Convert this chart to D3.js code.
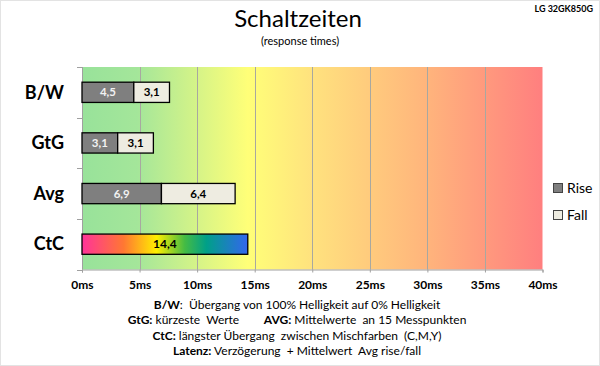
<!DOCTYPE html>
<html><head><meta charset="utf-8">
<script src="https://cdn.jsdelivr.net/npm/d3@7"></script>
<style>body{margin:0;background:#fff}svg{display:block;font-family:Lato,"Liberation Sans",sans-serif}</style>
</head><body>
<script>
const categories = ["B/W","GtG","Avg","CtC"];
const riseValues = [4.5, 3.1, 6.9, null];
const fallValues = [3.1, 3.1, 6.4, null];
const ctcValue = 14.4;
const xTicks = [0,5,10,15,20,25,30,35,40];
const seriesNames = ["Rise","Fall"];
const footLines = [
  [["B/W",true],[":  Übergang von 100% Helligkeit auf 0% Helligkeit",false]],
  [["GtG:",true],[" kürzeste  Werte        ",false],["AVG:",true],[" Mittelwerte  an 15 Messpunkten",false]],
  [["CtC:",true],[" längster Übergang  zwischen Mischfarben  (C,M,Y)",false]],
  [["Latenz:",true],[" Verzögerung  + Mittelwert  Avg rise/fall",false]]
];
const fmt = v => String(v).replace(".", ",");

const W=600,H=366;
const svg=d3.select("body").append("svg").attr("width",W).attr("height",H);
svg.append("rect").attr("x",0.5).attr("y",0.5).attr("width",W-1).attr("height",H-1).attr("fill","#fff").attr("stroke","#e3e3e3");

const plot={l:82,r:542.5,t:67,b:269.5};
const x=d3.scaleLinear().domain([0,40]).range([plot.l,plot.r]);
const y=d3.scaleBand().domain(categories).range([plot.t,plot.b]).paddingInner(0.6).paddingOuter(0.3);

const defs=svg.append("defs");
const bg=defs.append("linearGradient").attr("id","bg");
[[0,"#98e29a"],[0.12,"#a4e69a"],[0.36,"#ffff78"],[0.5,"#ffe27e"],[0.75,"#ffb47c"],[1,"#ff7f7f"]]
  .forEach(([o,c])=>bg.append("stop").attr("offset",o).attr("stop-color",c));
const cg=defs.append("linearGradient").attr("id","ctc");
[[0,"#ff3399"],[0.25,"#ff7733"],[0.45,"#ffee00"],[0.62,"#44bb44"],[0.75,"#00a088"],[1,"#3366ee"]]
  .forEach(([o,c])=>cg.append("stop").attr("offset",o).attr("stop-color",c));

svg.append("rect").attr("x",plot.l).attr("y",plot.t).attr("width",plot.r-plot.l).attr("height",plot.b-plot.t).attr("fill","url(#bg)");

// gridlines
svg.append("g").selectAll("line").data(xTicks.filter(d=>d>0&&d<40)).join("line")
  .attr("x1",d=>Math.round(x(d))+0.5).attr("x2",d=>Math.round(x(d))+0.5)
  .attr("y1",plot.t).attr("y2",plot.b).attr("stroke","#a8a8a0").attr("stroke-width",1);

// x axis
const xa=svg.append("g").attr("transform",`translate(0,${plot.b})`)
  .call(d3.axisBottom(x).tickValues(xTicks).tickSize(3).tickFormat(d=>d+"ms"));
xa.select(".domain").attr("stroke","#a0a0a0");
xa.selectAll(".tick line").attr("stroke","#a0a0a0");
xa.selectAll(".tick text").attr("font-family","Lato").attr("font-weight","bold").attr("font-size",12).attr("fill","#000").attr("dy","1.15em");

// y axis
const bandStep=(plot.b-plot.t)/categories.length;
const ya=svg.append("g").attr("transform",`translate(${plot.l},0)`);
ya.append("line").attr("x1",0.5).attr("x2",0.5).attr("y1",plot.t).attr("y2",plot.b).attr("stroke","#a0a0a0");
ya.selectAll(".tk").data(d3.range(categories.length+1)).join("line").attr("class","tk")
  .attr("x1",-5).attr("x2",0).attr("y1",i=>Math.round(plot.t+i*bandStep)+0.5).attr("y2",i=>Math.round(plot.t+i*bandStep)+0.5).attr("stroke","#a0a0a0");
svg.append("g").selectAll("text").data(categories).join("text")
  .attr("x",64).attr("y",d=>y(d)+y.bandwidth()/2).attr("dy","0.35em").attr("text-anchor","end")
  .attr("font-weight","bold").attr("font-size",18).attr("fill","#000").text(d=>d);

// bars
const bars=svg.append("g");
categories.forEach((c,i)=>{
  const yy=y(c), h=y.bandwidth();
  if(riseValues[i]!=null){
    const r=riseValues[i], f=fallValues[i];
    bars.append("rect").attr("x",x(0)).attr("y",yy).attr("width",x(r)-x(0)).attr("height",h).attr("fill","#7f7f7f").attr("stroke","#000").attr("stroke-width",1.3);
    bars.append("rect").attr("x",x(r)).attr("y",yy).attr("width",x(r+f)-x(r)).attr("height",h).attr("fill","#eeece1").attr("stroke","#000").attr("stroke-width",1.3);
    bars.append("text").attr("x",(x(0)+x(r))/2).attr("y",yy+h/2).attr("dy","0.35em").attr("text-anchor","middle").attr("font-weight","bold").attr("font-size",11.5).attr("fill","#f2f2f2").text(fmt(r));
    bars.append("text").attr("x",(x(r)+x(r+f))/2).attr("y",yy+h/2).attr("dy","0.35em").attr("text-anchor","middle").attr("font-weight","bold").attr("font-size",11.5).attr("fill","#000").text(fmt(f));
  } else {
    bars.append("rect").attr("x",x(0)).attr("y",yy).attr("width",x(ctcValue)-x(0)).attr("height",h).attr("fill","url(#ctc)").attr("stroke","#000").attr("stroke-width",1.3);
    bars.append("text").attr("x",(x(0)+x(ctcValue))/2).attr("y",yy+h/2).attr("dy","0.35em").attr("text-anchor","middle").attr("font-weight","bold").attr("font-size",12).attr("fill","#000").text(fmt(ctcValue));
  }
});

// legend
const leg=svg.append("g");
seriesNames.forEach((n,i)=>{
  const ly=183+i*27;
  leg.append("rect").attr("x",553.5).attr("y",ly+0.5).attr("width",9).attr("height",9).attr("fill",i===0?"#7f7f7f":"#eeece1").attr("stroke","#444").attr("stroke-width",1);
  leg.append("text").attr("x",567).attr("y",ly+5).attr("dy","0.35em").attr("font-size",14).attr("fill","#000").text(n);
});

// titles
svg.append("text").attr("x",298).attr("y",27).attr("text-anchor","middle").attr("font-size",24).attr("fill","#000").text("Schaltzeiten");
svg.append("text").attr("x",300).attr("y",45).attr("text-anchor","middle").attr("font-size",11).attr("fill","#000").text("(response times)");
svg.append("text").attr("x",593).attr("y",12).attr("text-anchor","end").attr("font-size",9).attr("font-weight","bold").attr("fill","#000").text("LG 32GK850G");

// footnotes
const fy=[309,324,340,355];
footLines.forEach((parts,i)=>{
  const t=svg.append("text").attr("x",297).attr("y",fy[i]).attr("text-anchor","middle").attr("font-size",12).attr("fill","#000").attr("xml:space","preserve").style("white-space","pre");
  parts.forEach(([s,b])=>t.append("tspan").attr("font-weight",b?"bold":"normal").text(s));
});
</script>
</body></html>
